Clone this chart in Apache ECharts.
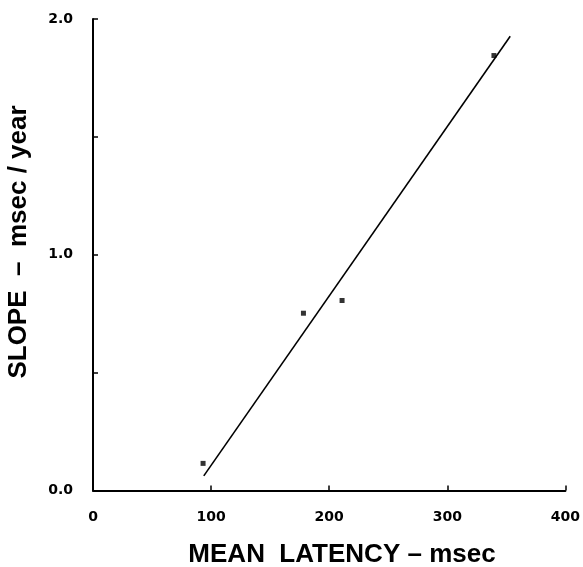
<!DOCTYPE html>
<html>
<head>
<meta charset="utf-8">
<script src="https://cdn.jsdelivr.net/npm/echarts@6/dist/echarts.min.js"></script>
<style>html,body{margin:0;padding:0;background:#fff;}#c{width:583px;height:567px;}</style>
</head>
<body>
<div id="c"></div>
<script>
var xTicks = [0, 100, 200, 300, 400];
var yTicks = [0, 0.5, 1.0, 1.5, 2.0];
var latency = [93.2, 178.2, 210.9, 339.5];
var slope = [0.115, 0.752, 0.806, 1.845];
var fitX = [93.8, 353.3];
var fitY = [0.062, 1.927];
var xTitle = 'MEAN  LATENCY \u2013 msec';
var yTitle = 'SLOPE  \u2013  msec / year';

var pts = latency.map(function (v, i) { return [v, slope[i]]; });
var fit = fitX.map(function (v, i) { return [v, fitY[i]]; });

var chart = echarts.init(document.getElementById('c'), null, {renderer: 'canvas'});
var tickFont = {fontFamily: 'DejaVu Sans', fontWeight: 'bold', fontSize: 14, color: '#000'};
chart.setOption({
  animation: false,
  backgroundColor: '#fff',
  grid: {left: 93, right: 16, top: 19, bottom: 76.5},
  xAxis: {
    type: 'value', min: xTicks[0], max: xTicks[xTicks.length - 1], interval: 100,
    axisLine: {show: true, lineStyle: {color: '#000', width: 2}},
    axisTick: {show: true, inside: true, length: 5, lineStyle: {color: '#000', width: 1.5}},
    axisLabel: Object.assign({margin: 20, formatter: function (v) { return String(v); }}, tickFont),
    splitLine: {show: false}
  },
  yAxis: {
    type: 'value', min: yTicks[0], max: yTicks[yTicks.length - 1], interval: 0.5,
    axisLine: {show: true, lineStyle: {color: '#000', width: 2}},
    axisTick: {show: true, inside: true, length: 5, lineStyle: {color: '#000', width: 1.5}},
    axisLabel: Object.assign({margin: 20, formatter: function (v) { return (Math.abs(v % 1) < 1e-9) ? v.toFixed(1) : ''; }}, tickFont),
    splitLine: {show: false}
  },
  graphic: [
    {type: 'text', x: 342, y: 555, style: {text: xTitle, x: 0, y: 0, align: 'center', verticalAlign: 'middle', font: 'bold 26px "Liberation Sans"', fill: '#000'}},
    {type: 'text', x: 19, y: 242, rotation: Math.PI / 2, style: {text: yTitle, x: 0, y: 0, align: 'center', verticalAlign: 'middle', font: 'bold 26px "Liberation Sans"', fill: '#000'}}
  ],
  series: [
    {type: 'line', data: fit, showSymbol: false, symbol: 'none', lineStyle: {color: '#000', width: 1.6}, z: 2},
    {type: 'scatter', data: pts, symbol: 'rect', symbolSize: 5, itemStyle: {color: '#000'}, z: 3}
  ]
});
</script>
</body>
</html>
